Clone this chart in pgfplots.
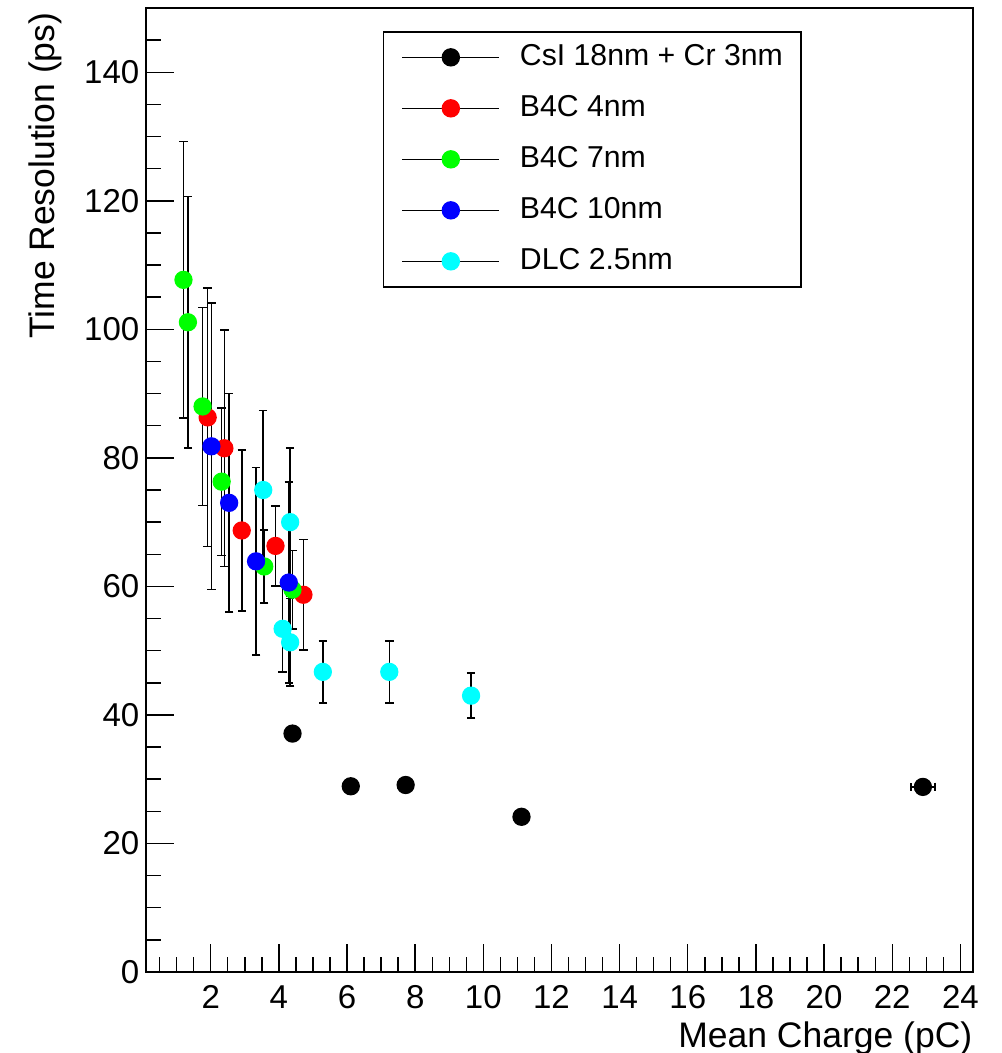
\documentclass[border=0pt]{standalone}
\usepackage{fontspec}
\setmainfont{Liberation Sans}
\usepackage{pgfplots}
\pgfplotsset{compat=1.18}

\definecolor{rootred}{rgb}{1,0,0}
\definecolor{rootgreen}{rgb}{0,1,0}
\definecolor{rootblue}{rgb}{0,0,1}
\definecolor{rootcyan}{rgb}{0,1,1}

% ROOT-like look: marker in colour, black error bars, legend line in black
\pgfplotsset{
  leg/.style={legend image code/.code={
      \draw[black, line width=0.35pt] (0cm,0cm) -- (0.97cm,0cm);
      \fill[#1] (0.485cm,0cm) circle (0.085cm);}},
  rootpts/.style={only marks, mark=*, mark size=2.4pt,
      mark options={draw=#1, fill=#1}, leg=#1,
      error bars/.cd, y dir=both, y explicit, x dir=both, x explicit,
      error bar style={black, line width=0.45pt},
      error mark options={rotate=90, black, mark size=1.2pt, line width=0.45pt}},
}

\begin{document}
\begin{tikzpicture}
\begin{axis}[
    scale only axis,
    width=8.27cm, height=9.64cm,
    xmin=0.1, xmax=24.37, ymin=0, ymax=150,
    xtick={2,4,...,24}, ytick={0,20,...,140},
    minor xtick={0.5,1,...,24}, minor ytick={5,10,...,150},
    tick pos=left, tick align=inside,
    major tick length=0.28cm, minor tick length=0.15cm,
    axis line style={line width=0.4pt},
    every tick/.style={black, line width=0.4pt},
    /pgf/number format/assume math mode=true,
    ticklabel style={font=\fontsize{9.4}{11}\selectfont, inner sep=0pt},
    xticklabel style={yshift=-0.13cm},
    yticklabel style={xshift=-0.06cm},
    xlabel={Mean Charge (pC)},
    ylabel={Time Resolution (ps)},
    xlabel style={at={(rel axis cs:1,-0.0788)}, anchor=base east,
        inner sep=0pt, font=\fontsize{10.1}{12}\selectfont},
    ylabel style={at={(rel axis cs:-0.1221,0.9959)}, anchor=east,
        inner sep=0pt, font=\fontsize{10.1}{12}\selectfont},
    legend cell align=left,
    legend style={at={(axis description cs:0.2866,0.976)}, anchor=north west,
        draw=black, line width=0.4pt, inner xsep=0.18cm, inner ysep=0pt,
        row sep=0pt,
        nodes={inner sep=0pt, minimum height=0.51cm,
               font=\fontsize{8.6}{10}\selectfont},
        /tikz/every odd column/.append style={column sep=0.2cm}},
]

% CsI 18nm + Cr 3nm
\addplot+[rootpts=black] coordinates {
    (4.40,37.1) +- (0.03,0.5)
    (6.11,28.9) +- (0.03,0.5)
    (7.72,29.1) +- (0.03,0.5)
    (11.12,24.15) +- (0.03,0.5)
    (22.90,28.8) +- (0.35,0.5)
};
\addlegendentry{CsI 18nm + Cr 3nm}

% B4C 4nm
\addplot+[rootpts=rootred] coordinates {
    (1.91,86.3) +- (0,20.1)
    (2.40,81.5) +- (0,18.4)
    (2.91,68.7) +- (0,12.5)
    (3.90,66.3) +- (0,6.2)
    (4.72,58.7) +- (0,8.6)
};
\addlegendentry{B4C 4nm}

% B4C 7nm
\addplot+[rootpts=rootgreen] coordinates {
    (1.20,107.7) +- (0,21.5)
    (1.33,101.1) +- (0,19.6)
    (1.76,88.0) +- (0,15.4)
    (2.32,76.3) +- (0,11.5)
    (3.57,63.1) +- (0,5.7)
    (4.40,59.5) +- (0,6.1)
};
\addlegendentry{B4C 7nm}

% B4C 10nm
\addplot+[rootpts=rootblue] coordinates {
    (2.02,81.8) +- (0,22.3)
    (2.54,73.0) +- (0,17.0)
    (3.33,63.9) +- (0,14.6)
    (4.29,60.6) +- (0,15.6)
};
\addlegendentry{B4C 10nm}

% DLC 2.5nm
\addplot+[rootpts=rootcyan] coordinates {
    (3.54,75.0) +- (0,12.4)
    (4.33,70.0) +- (0,11.5)
    (4.11,53.4) +- (0,6.7)
    (4.33,51.3) +- (0,6.8)
    (5.29,46.7) +- (0,4.8)
    (7.24,46.7) +- (0,4.8)
    (9.64,43.0) +- (0,3.5)
};
\addlegendentry{DLC 2.5nm}

\end{axis}
\pgfresetboundingbox
\path[use as bounding box] (-1.46cm,-0.81cm) rectangle (8.56cm,9.72cm);
\end{tikzpicture}
\end{document}
